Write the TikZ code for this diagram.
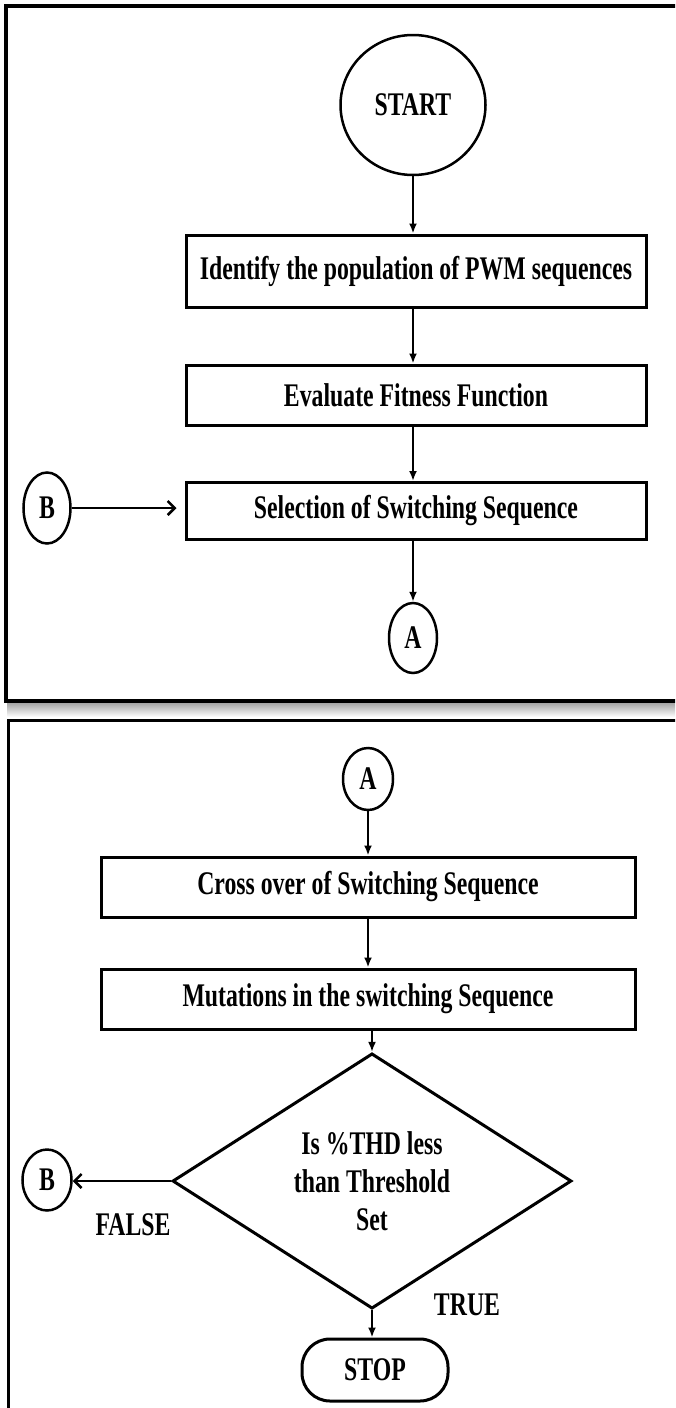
\documentclass[tikz,border=0pt]{standalone}
\usepackage{fontspec}
\setmainfont{Liberation Serif}[FakeStretch=0.72]
\usetikzlibrary{shapes.geometric,arrows.meta}
\begin{document}
\begin{tikzpicture}[x=1pt,y=-1pt,
    box/.style={draw,line width=3pt,minimum width=460pt,minimum height=60pt,inner sep=0pt},
    oval/.style={draw,ellipse,line width=2.5pt,inner sep=0pt},
    flow/.style={line width=2pt,-{Latex[length=10pt,width=8pt]}},
    link/.style={line width=2.5pt,-{Straight Barb[length=7pt,width=14pt,line width=2.5pt]}},
    font=\fontsize{33}{38}\selectfont\bfseries]
      \useasboundingbox (0,0) rectangle (675,1408);
      \clip (0,0) rectangle (675,1408);

      % the two frames
      \shade [top color=gray!70, bottom color=white] (7,703) rectangle (700,717);
      \draw [line width=4pt] (6,6) rectangle (700,701);
      \draw [line width=3pt] (8,720) rectangle (700,1420);

      % first part
      \node [oval, minimum width=145pt, minimum height=140pt] (start) at (413,105) {START};
      \node [box, minimum height=72pt] (ident) at (416,271) {Identify the population of PWM sequences};
      \node [box] (eval) at (416,395) {Evaluate Fitness Function};
      \node [box, minimum height=57pt] (select) at (416,511) {Selection of Switching Sequence};
      \node [oval, minimum width=47pt, minimum height=71pt] (b1) at (47,508) {B};
      \node [oval, minimum width=48pt, minimum height=70pt] (a1) at (413,638) {A};

      \draw [flow] (start.south) -- (start.south |- ident.north);
      \draw [flow] (ident.south -| start.south) -- (start.south |- eval.north);
      \draw [flow] (eval.south -| start.south) -- (start.south |- select.north);
      \draw [flow] (select.south -| a1.north) -- (a1.north);
      \draw [link, shorten >=8pt] (b1.east) -- (b1.east -| select.west);

      % second part
      \node [oval, minimum width=50pt, minimum height=62pt] (a2) at (368,779) {A};
      \node [box, minimum width=534pt] (cross) at (368,887) {Cross over of Switching Sequence};
      \node [box, minimum width=534pt] (mutate) at (368,999) {Mutations in the switching Sequence};
      \node [diamond, draw, line width=3pt, minimum width=399pt, minimum height=212pt, inner sep=0pt, align=center] (thd) at (372,1181) {Is \%THD less\\than Threshold\\Set};
      \node [oval, minimum width=49pt, minimum height=61pt] (b2) at (47,1180) {B};
      \node [draw, rounded corners=28pt, line width=3pt, minimum width=146pt, minimum height=62pt] (stop) at (375,1370) {STOP};
      \node (false) at (133,1225) {FALSE};
      \node (true) at (467,1305) {TRUE};

      \draw [flow] (a2.south) -- (a2.south |- cross.north);
      \draw [flow] (cross.south -| a2.south) -- (a2.south |- mutate.north);
      \draw [flow] (mutate.south -| thd.north) -- (thd.north);
      \draw [link] (thd.west) -- (thd.west -| b2.east);
      \draw [flow] (thd.south) -- (thd.south |- stop.north);
\end{tikzpicture}
\end{document}
